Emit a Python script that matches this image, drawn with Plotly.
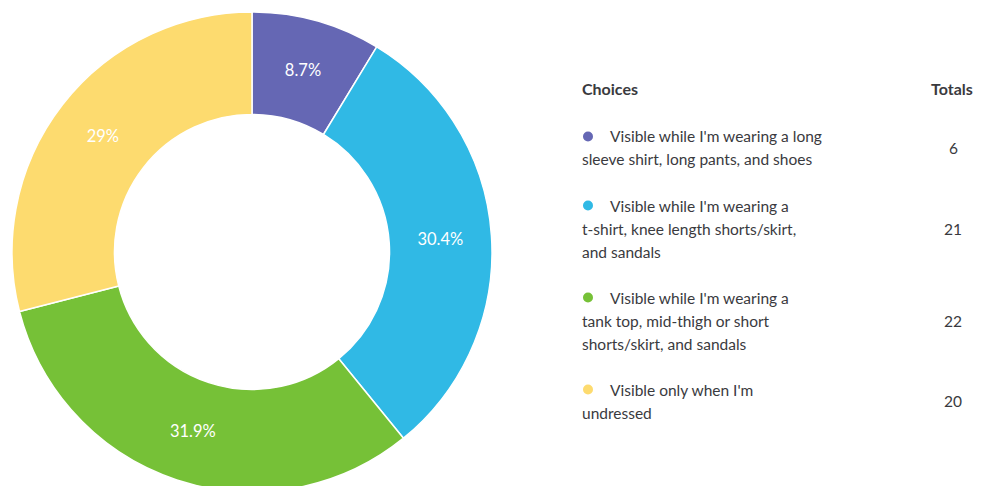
import plotly.graph_objects as go

# ---- data ----
choices = [
    "Visible while I'm wearing a long<br>sleeve shirt, long pants, and shoes",
    "Visible while I'm wearing a<br>t-shirt, knee length shorts/skirt,<br>and sandals",
    "Visible while I'm wearing a<br>tank top, mid-thigh or short<br>shorts/skirt, and sandals",
    "Visible only when I'm<br>undressed",
]
totals = [6, 21, 22, 20]
colors = ["#6567B4", "#30B9E5", "#76C137", "#FDDB6F"]
header_choice = "Choices"
header_total = "Totals"

# ---- layout constants (pixels) ----
W, H = 984, 496
FONT = "Lato, 'Open Sans', sans-serif"
TXT = "#3a3a3e"
text_x = 580
indent_x = 607.5
dot_x = 588
total_x = 953
header_y = 88.5
first_y = 136.5
line_h = 23.0


def px(x):
    return x / W


def py(y):
    return 1 - y / H


fig = go.Figure()

fig.add_trace(go.Pie(
    labels=[c.replace("<br>", " ") for c in choices],
    values=totals,
    sort=False,
    direction="clockwise",
    rotation=0,
    hole=0.573,
    marker=dict(colors=colors, line=dict(color="white", width=1.5)),
    textinfo="percent",
    textposition="inside",
    insidetextorientation="horizontal",
    textfont=dict(family=FONT, size=16.5, color="white"),
    domain=dict(x=[12 / W, 492 / W], y=[4 / H, 484 / H]),
    hoverinfo="label+value+percent",
    showlegend=False,
))

annotations = []
annotations.append(dict(x=px(text_x), y=py(header_y), xref="paper", yref="paper",
                        text="<b>" + header_choice + "</b>", showarrow=False,
                        xanchor="left", yanchor="middle",
                        font=dict(family=FONT, size=16, color=TXT)))
annotations.append(dict(x=px(975), y=py(header_y), xref="paper", yref="paper",
                        text="<b>" + header_total + "</b>", showarrow=False,
                        xanchor="right", yanchor="middle",
                        font=dict(family=FONT, size=16, color=TXT)))

dot_ys = []
y = first_y
for label, tot in zip(choices, totals):
    lines = label.split("<br>")
    dot_ys.append(y)
    for i, ln in enumerate(lines):
        annotations.append(dict(x=px(indent_x if i == 0 else text_x), y=py(y + i * line_h),
                                xref="paper", yref="paper", text=ln, showarrow=False,
                                xanchor="left", yanchor="middle",
                                font=dict(family=FONT, size=15.5, color=TXT)))
    mid = y + (len(lines) - 1) * line_h / 2
    annotations.append(dict(x=px(total_x), y=py(mid), xref="paper", yref="paper",
                            text=str(tot), showarrow=False,
                            xanchor="center", yanchor="middle",
                            font=dict(family=FONT, size=15.5, color=TXT)))
    y += (len(lines) + 1) * line_h

fig.add_trace(go.Scatter(
    x=[dot_x] * len(totals), y=dot_ys, mode="markers",
    marker=dict(size=10, color=colors),
    hoverinfo="skip", showlegend=False,
))

fig.update_layout(
    width=W, height=H,
    margin=dict(l=0, r=0, t=0, b=0),
    paper_bgcolor="white", plot_bgcolor="rgba(0,0,0,0)",
    xaxis=dict(range=[0, W], visible=False, domain=[0, 1], fixedrange=True),
    yaxis=dict(range=[H, 0], visible=False, domain=[0, 1], fixedrange=True),
    annotations=annotations,
    showlegend=False,
)

fig.write_html(
    "out.html",
    config={"displayModeBar": False},
    post_script="document.body.style.margin='0';document.body.style.overflow='hidden';",
)
